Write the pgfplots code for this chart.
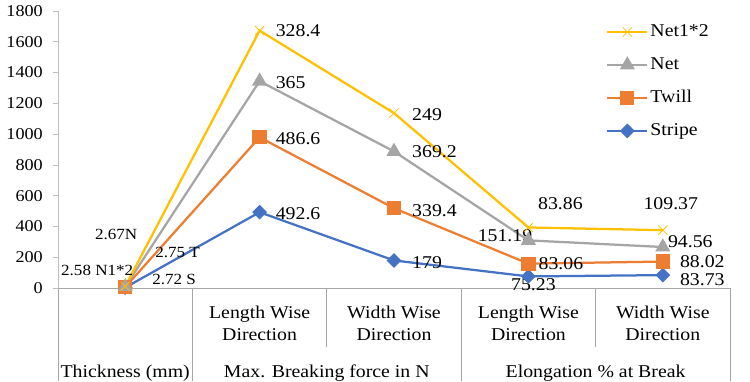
\documentclass[border=0pt]{standalone}
\usepackage{fontspec}
\setmainfont{Liberation Serif}[FakeStretch=1.1]
\usepackage{pgfplots}
\usepackage{pgfplotstable}
\pgfplotsset{compat=1.18}
\definecolor{cGold}{HTML}{FFC000}
\definecolor{cGray}{HTML}{A5A5A5}
\definecolor{cOrange}{HTML}{ED7D31}
\definecolor{cBlue}{HTML}{4472C4}
\definecolor{axgray}{HTML}{BFBFBF}
\definecolor{sepgray}{HTML}{A6A6A6}

% v = value of the series, c = stacked (cumulative) value that is drawn
\pgfplotstableread{
x v c
0 2.72 2.72
1 492.6 492.6
2 179 179
3 75.23 75.23
4 83.73 83.73
}\tabStripe
\pgfplotstableread{
x v c
0 2.75 5.47
1 486.6 979.2
2 339.4 518.4
3 83.06 158.29
4 88.02 171.75
}\tabTwill
\pgfplotstableread{
x v c
0 2.67 8.14
1 365 1344.2
2 369.2 887.6
3 151.19 309.48
4 94.56 266.31
}\tabNet
\pgfplotstableread{
x v c
0 2.58 10.72
1 328.4 1672.6
2 249 1136.6
3 83.86 393.34
4 109.37 375.68
}\tabNetB

\begin{document}
\begin{tikzpicture}
\begin{axis}[
  at={(0pt,0pt)}, anchor=south west,
  scale only axis, width=672pt, height=277pt,
  xmin=-0.5, xmax=4.5, ymin=0, ymax=1800,
  xtick=\empty,
  ytick={0,200,...,1800},
  axis lines*=left,
  y axis line style={draw=axgray, line width=0.75pt},
  x axis line style={draw=sepgray, line width=0.75pt},
  tick align=outside, major tick length=5pt,
  tick style={draw=axgray, line width=0.75pt},
  yticklabel style={font=\fontsize{16.5}{16.5}\selectfont, inner sep=0pt, xshift=-10pt},
  /pgf/number format/assume math mode=true,
  /pgf/number format/1000 sep={},
  clip=false,
  reverse legend,
  legend cell align=left,
  legend image code/.code={\draw[mark repeat=2,mark phase=2,#1] plot coordinates {(0pt,0pt) (20pt,0pt) (40pt,0pt)};},
  legend style={draw=none, fill=none, at={(rel axis cs:0.8155,0.962)}, anchor=north west,
    font=\fontsize{18}{18}\selectfont, row sep=12.5pt, inner sep=0pt,
    nodes={inner sep=2pt, text height=12.5pt, text depth=4pt}},
]
\addplot[color=cBlue, line width=2.25pt, mark=square*, mark size=4.1pt, mark options={rotate=45, solid}]
  table[x=x, y=c]{\tabStripe};
\addlegendentry{Stripe}
\addplot[color=cOrange, line width=2.25pt, mark=square*, mark size=6pt, mark options={solid}]
  table[x=x, y=c]{\tabTwill};
\addlegendentry{Twill}
\addplot[color=cGray, line width=2.25pt, mark=triangle*, mark size=6.5pt, mark options={solid}]
  table[x=x, y=c]{\tabNet};
\addlegendentry{Net}
\addplot[color=cGold, line width=2.25pt, mark=x, mark size=6.5pt, mark options={solid, line width=0.8pt}]
  table[x=x, y=c]{\tabNetB};
\addlegendentry{Net1*2}

% data labels (series values) beside the stacked points
\node[anchor=west, inner sep=0pt, font=\fontsize{15.5}{15.5}\selectfont] at ([xshift=27pt,yshift=8pt]axis cs:0,2.72) {2.72 S};
\node[anchor=west, inner sep=0pt, font=\fontsize{18}{18}\selectfont] at ([xshift=16pt,yshift=-1pt]axis cs:1,492.6) {492.6};
\node[anchor=west, inner sep=0pt, font=\fontsize{18}{18}\selectfont] at ([xshift=18pt,yshift=-2pt]axis cs:2,179) {179};
\node[anchor=center, inner sep=0pt, font=\fontsize{18}{18}\selectfont] at ([xshift=5pt,yshift=-8pt]axis cs:3,75.23) {75.23};
\node[anchor=west, inner sep=0pt, font=\fontsize{18}{18}\selectfont] at ([xshift=17pt,yshift=-5pt]axis cs:4,83.73) {83.73};

\node[anchor=west, inner sep=0pt, font=\fontsize{15.5}{15.5}\selectfont] at ([xshift=30pt,yshift=35pt]axis cs:0,5.47) {2.75 T};
\node[anchor=west, inner sep=0pt, font=\fontsize{18}{18}\selectfont] at ([xshift=16pt,yshift=-1pt]axis cs:1,979.2) {486.6};
\node[anchor=west, inner sep=0pt, font=\fontsize{18}{18}\selectfont] at ([xshift=18pt,yshift=-2pt]axis cs:2,518.4) {339.4};
\node[anchor=west, inner sep=0pt, font=\fontsize{18}{18}\selectfont] at ([xshift=10pt,yshift=0pt]axis cs:3,158.29) {83.06};
\node[anchor=west, inner sep=0pt, font=\fontsize{18}{18}\selectfont] at ([xshift=17pt,yshift=0pt]axis cs:4,171.75) {88.02};

\node[anchor=center, inner sep=0pt, font=\fontsize{15.5}{15.5}\selectfont] at ([xshift=-9pt,yshift=52pt]axis cs:0,8.14) {2.67N};
\node[anchor=west, inner sep=0pt, font=\fontsize{18}{18}\selectfont] at ([xshift=16pt,yshift=-1pt]axis cs:1,1344.2) {365};
\node[anchor=west, inner sep=0pt, font=\fontsize{18}{18}\selectfont] at ([xshift=18pt,yshift=0pt]axis cs:2,887.6) {369.2};
\node[anchor=east, inner sep=0pt, font=\fontsize{18}{18}\selectfont] at ([xshift=4pt,yshift=5pt]axis cs:3,309.48) {151.19};
\node[anchor=west, inner sep=0pt, font=\fontsize{18}{18}\selectfont] at ([xshift=5pt,yshift=5pt]axis cs:4,266.31) {94.56};

\node[anchor=center, inner sep=0pt, font=\fontsize{15.5}{15.5}\selectfont] at ([xshift=-28pt,yshift=16pt]axis cs:0,10.72) {2.58 N1*2};
\node[anchor=west, inner sep=0pt, font=\fontsize{18}{18}\selectfont] at ([xshift=16pt,yshift=0pt]axis cs:1,1672.6) {328.4};
\node[anchor=west, inner sep=0pt, font=\fontsize{18}{18}\selectfont] at ([xshift=18pt,yshift=-2pt]axis cs:2,1136.6) {249};
\node[anchor=center, inner sep=0pt, font=\fontsize{18}{18}\selectfont] at ([xshift=32pt,yshift=24pt]axis cs:3,393.34) {83.86};
\node[anchor=center, inner sep=0pt, font=\fontsize{18}{18}\selectfont] at ([xshift=8pt,yshift=27pt]axis cs:4,375.68) {109.37};

\draw[sepgray, line width=0.75pt] (axis cs:-0.5,0) -- ++(0pt,-93pt);
\draw[sepgray, line width=0.75pt] (axis cs:0.5,0) -- ++(0pt,-93pt);
\draw[sepgray, line width=0.75pt] (axis cs:1.5,0) -- ++(0pt,-59pt);
\draw[sepgray, line width=0.75pt] (axis cs:2.5,0) -- ++(0pt,-93pt);
\draw[sepgray, line width=0.75pt] (axis cs:3.5,0) -- ++(0pt,-59pt);
\draw[sepgray, line width=0.75pt] (axis cs:4.5,0) -- ++(0pt,-93pt);

\node[anchor=base, inner sep=0pt, font=\fontsize{18}{18}\selectfont] at ([yshift=-30pt]axis cs:1,0) {Length Wise};
\node[anchor=base, inner sep=0pt, font=\fontsize{18}{18}\selectfont] at ([yshift=-52pt]axis cs:1,0) {Direction};
\node[anchor=base, inner sep=0pt, font=\fontsize{18}{18}\selectfont] at ([yshift=-30pt]axis cs:2,0) {Width Wise};
\node[anchor=base, inner sep=0pt, font=\fontsize{18}{18}\selectfont] at ([yshift=-52pt]axis cs:2,0) {Direction};
\node[anchor=base, inner sep=0pt, font=\fontsize{18}{18}\selectfont] at ([yshift=-30pt]axis cs:3,0) {Length Wise};
\node[anchor=base, inner sep=0pt, font=\fontsize{18}{18}\selectfont] at ([yshift=-52pt]axis cs:3,0) {Direction};
\node[anchor=base, inner sep=0pt, font=\fontsize{18}{18}\selectfont] at ([yshift=-30pt]axis cs:4,0) {Width Wise};
\node[anchor=base, inner sep=0pt, font=\fontsize{18}{18}\selectfont] at ([yshift=-52pt]axis cs:4,0) {Direction};
\node[anchor=base, inner sep=0pt, font=\fontsize{18}{18}\selectfont] at ([yshift=-89pt]axis cs:0,0) {Thickness (mm)};
\node[anchor=base, inner sep=0pt, font=\fontsize{18}{18}\selectfont] at ([yshift=-89pt]axis cs:1.5,0) {Max. Breaking force in N};
\node[anchor=base, inner sep=0pt, font=\fontsize{18}{18}\selectfont] at ([yshift=-89pt]axis cs:3.5,0) {Elongation \% at Break};
\end{axis}
\pgfresetboundingbox
\useasboundingbox (-58pt,-93pt) rectangle (692pt,288pt);
\end{tikzpicture}
\end{document}
